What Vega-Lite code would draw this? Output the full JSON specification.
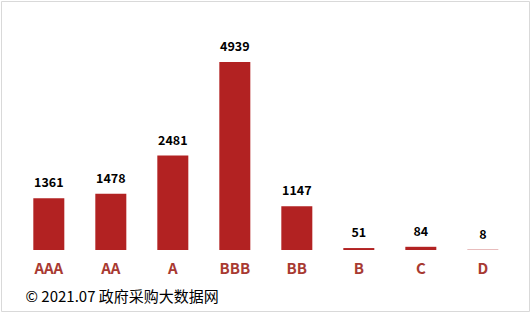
{
  "$schema": "https://vega.github.io/schema/vega-lite/v6.json",
  "width": 528,
  "height": 310,
  "padding": 1,
  "autosize": {"type": "none"},
  "background": "#ffffff",
  "config": {
    "view": {"stroke": "#d9d9d9", "strokeWidth": 1},
    "font": "Noto Sans CJK SC"
  },
  "data": {
    "values": [
      {"grade": "AAA", "count": 1361},
      {"grade": "AA", "count": 1478},
      {"grade": "A", "count": 2481},
      {"grade": "BBB", "count": 4939},
      {"grade": "BB", "count": 1147},
      {"grade": "B", "count": 51},
      {"grade": "C", "count": 84},
      {"grade": "D", "count": 8}
    ]
  },
  "encoding": {
    "x": {
      "field": "grade",
      "type": "nominal",
      "sort": null,
      "scale": {"paddingInner": 0.5, "paddingOuter": 0.508, "align": 0.513, "round": false},
      "axis": {
        "orient": "bottom",
        "offset": -61,
        "domain": false,
        "ticks": false,
        "labelAngle": 0,
        "labelFont": "Noto Sans CJK SC",
        "labelFontSize": 15,
        "labelFontWeight": "bold",
        "labelColor": "#a83a32",
        "labelPadding": 11,
        "title": "© 2021.07 政府采购大数据网",
        "titleFont": "Noto Sans CJK SC",
        "titleFontSize": 15,
        "titleFontWeight": "normal",
        "titleColor": "#000000",
        "titleAnchor": "start",
        "titleAlign": "left",
        "titleBaseline": "middle",
        "titleX": 24,
        "titleY": 46
      }
    },
    "y": {
      "field": "count",
      "type": "quantitative",
      "scale": {"domain": [-1603, 6542], "nice": false, "zero": false},
      "axis": null
    }
  },
  "layer": [
    {
      "mark": {"type": "bar", "color": "#b22222"},
      "encoding": {"y2": {"datum": 0}}
    },
    {
      "mark": {"type": "text", "baseline": "bottom", "dy": -8, "fontSize": 12.5, "fontWeight": "bold", "color": "#000000", "font": "Noto Sans CJK SC"},
      "encoding": {"text": {"field": "count", "type": "quantitative"}}
    },
    {
      "data": {"values": [{"a": 1}]},
      "mark": {"type": "rule", "color": "#d9d9d9", "strokeWidth": 1},
      "encoding": {
        "x": {"datum": "AAA", "bandPosition": -0.5},
        "x2": {"datum": "D", "bandPosition": 1.5},
        "y": {"datum": 0}
      }
    }
  ]
}
